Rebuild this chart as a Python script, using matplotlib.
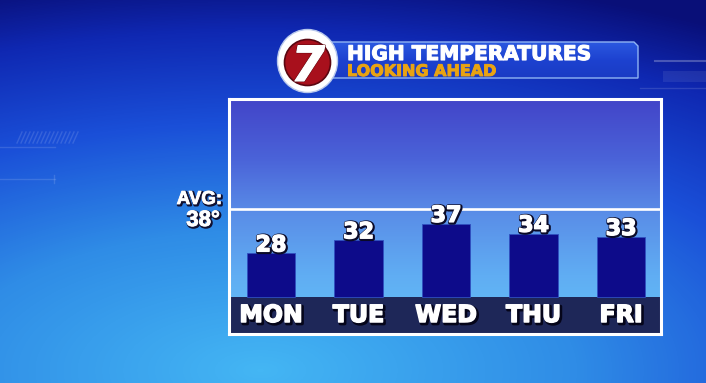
import numpy as np
import matplotlib.pyplot as plt
from matplotlib import patheffects as pe
from matplotlib.colors import LinearSegmentedColormap
from matplotlib.patches import Ellipse, Polygon

# ── data ──
DAYS = ['MON', 'TUE', 'WED', 'THU', 'FRI']
HIGHS = [28, 32, 37, 34, 33]
AVG_HIGH = 38
TITLE = 'HIGH TEMPERATURES'
SUBTITLE = 'LOOKING AHEAD'
LOGO = '7'

W, H = 706, 383
BASE = 14.7            # value where the bars stand on the label band
BAR_W = 0.55

fig = plt.figure(figsize=(W / 100, H / 100), dpi=100)


def heavy(dark, lw=2.6, off=(0.6, -0.6), fat=0.9, fill='white'):
    # dark outline/shadow, then a thin stroke of the fill colour to fatten glyphs
    return [pe.Stroke(linewidth=lw, foreground=dark, offset=off),
            pe.Stroke(linewidth=fat, foreground=fill), pe.Normal()]


# ──────────────────────────────────────────────
# background layer, pixel coordinates
# ──────────────────────────────────────────────
bg = fig.add_axes([0, 0, 1, 1])
bg.axis('off')

yy, xx = np.mgrid[0:H, 0:W]
dist = np.sqrt(((xx - 260) / 900.0) ** 2 + ((yy - 370) / 400.0) ** 2)
bg_cmap = LinearSegmentedColormap.from_list(
    'bg', [(0, '#44b6f4'), (0.35, '#2f8ce6'), (0.62, '#1a4fd8'),
           (0.85, '#0f28b2'), (1, '#090f78')])
bg.imshow(np.clip(dist, 0, 1), cmap=bg_cmap, vmin=0, vmax=1,
          extent=(0, W, H, 0), aspect='auto', zorder=0)

# faint studio decorations
deco = dict(color='white', alpha=0.13, lw=1, zorder=1)
bg.plot([0, 55], [147, 147], **deco)
bg.plot([0, 55], [179, 179], **deco)
bg.plot([54, 54], [175, 183], **deco)
for x0 in range(17, 77, 4):
    bg.plot([x0, x0 + 5], [143, 132], **deco)
bg.plot([655, 706], [61, 61], color='white', alpha=0.25, lw=1.5, zorder=1)
bg.plot([640, 706], [88, 88], **deco)
bg.fill_between([663, 706], 71, 82, color='white', alpha=0.08, lw=0, zorder=1)

# ── header banner ──
banner = Polygon([(326, 42), (634, 42), (638, 46), (638, 78), (326, 78)],
                 closed=True, fc='none', ec='#8fb4f4', lw=1.0, zorder=3)
bg.add_patch(banner)
ban_cmap = LinearSegmentedColormap.from_list('ban', ['#2b58e0', '#1d42d0', '#1a3bc4'])
im = bg.imshow(np.linspace(0, 1, 64)[:, None], cmap=ban_cmap,
               extent=(326, 638, 78, 42), aspect='auto', zorder=2)
im.set_clip_path(banner)

bg.text(347, 60, TITLE, fontsize=14.5, weight='bold', color='white',
        ha='left', va='baseline', zorder=4,
        path_effects=[pe.Stroke(linewidth=0.8, foreground='white'), pe.Normal()])
bg.text(347, 76, SUBTITLE, fontsize=11.5, weight='bold', color='#e9a312',
        ha='left', va='baseline', zorder=4,
        path_effects=[pe.Stroke(linewidth=0.7, foreground='#e9a312'), pe.Normal()])

# ── logo ──
bg.add_patch(Ellipse((307.5, 61), 60, 63, fc='white', ec='#b8c8ec', lw=1, zorder=5))
bg.add_patch(Ellipse((307.5, 62.5), 46, 46, fc='#a8101c', ec='#5a0610', lw=1.2, zorder=6))
bg.text(308, 81, LOGO, fontsize=35, weight='bold', style='italic', color='white',
        ha='center', va='baseline', zorder=7,
        path_effects=[pe.Stroke(linewidth=1.5, foreground='#600810'),
                      pe.Stroke(linewidth=0.8, foreground='white'), pe.Normal()])

# ── average label ──
bg.text(222, 204, 'AVG:', fontsize=13.5, weight='bold', color='white',
        family=['Liberation Sans', 'DejaVu Sans'], ha='right', va='baseline',
        zorder=4, path_effects=heavy('#101030', lw=2, off=(0.8, -0.8), fat=0.6))
bg.text(220, 226, f'{AVG_HIGH}°', fontsize=16, weight='bold', color='white',
        family=['Liberation Sans', 'DejaVu Sans'], ha='right', va='baseline',
        zorder=4, path_effects=heavy('#101030', lw=2, off=(0.8, -0.8), fat=0.6))

bg.set_xlim(0, W)
bg.set_ylim(H, 0)

# ──────────────────────────────────────────────
# chart box
# ──────────────────────────────────────────────
ax = fig.add_axes([229 / W, 1 - 334 / H, (660.5 - 229) / W, (334 - 98.5) / H])

box_cmap = LinearSegmentedColormap.from_list(
    'box', [(0, '#4244c8'), (0.25, '#4a62d8'), (0.5, '#5a8fe8'),
            (0.75, '#60adf3'), (1, '#64c0f8')])
ax.imshow(np.linspace(0, 1, 256)[:, None], cmap=box_cmap, extent=(0, 1, 0, 1),
          transform=ax.transAxes, aspect='auto', zorder=0)

x = np.arange(len(DAYS))
ymin, ymax = 3.41, 75.29

# dark label band
ax.axhspan(ymin, BASE, color='#1e2758', zorder=1, lw=0)

ax.bar(x, np.array(HIGHS) - BASE, BAR_W, bottom=BASE, color='#0d0b8a',
       edgecolor='#3050c0', linewidth=0.6, zorder=2)

# average line (fixed position on the graphic)
ax.plot([0, 1], [0.5295, 0.5295], transform=ax.transAxes, color='white',
        lw=1.9, solid_capstyle='butt', zorder=4)

for xi, v in zip(x, HIGHS):
    ax.annotate(str(v), (xi, v), xytext=(0, 1.5), textcoords='offset points',
                ha='center', va='baseline', fontsize=16, weight='bold',
                color='white', zorder=5,
                path_effects=heavy('#0a0a28', lw=3.0, off=(0.5, -0.5), fat=1.0))

for xi, d in zip(x, DAYS):
    ax.text(xi, 0.051, d, transform=ax.get_xaxis_transform(), ha='center',
            va='baseline', fontsize=17, weight='bold', color='white', zorder=5,
            path_effects=heavy('#05051a', lw=2.4, off=(1.2, -1.2), fat=1.1))

ax.set_xlim(-0.48, 4.451)
ax.set_ylim(ymin, ymax)
ax.set_xticks([])
ax.set_yticks([])
for s in ax.spines.values():
    s.set_color('white')
    s.set_linewidth(2.2)
    s.set_zorder(6)

fig.savefig('out.png', dpi=100)
